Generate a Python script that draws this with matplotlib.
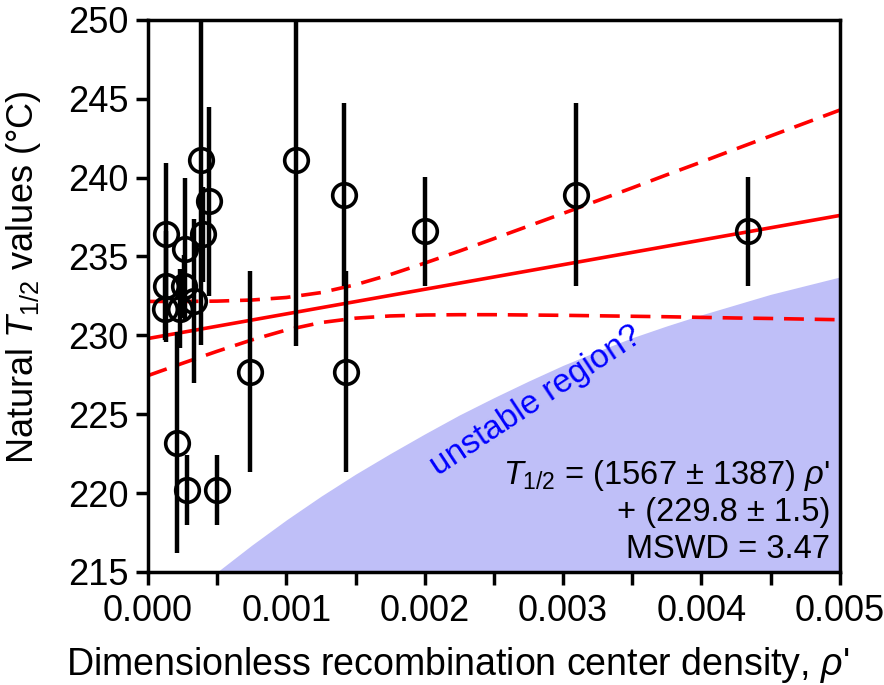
import matplotlib
matplotlib.use("Agg")
import matplotlib.pyplot as plt
from matplotlib.ticker import MultipleLocator

plt.rcParams['font.family'] = ['Liberation Sans', 'DejaVu Sans']
plt.rcParams['mathtext.fontset'] = 'custom'
plt.rcParams['mathtext.rm'] = 'Liberation Sans'
plt.rcParams['mathtext.it'] = 'Liberation Sans:italic'

# measured samples: recombination center density, T1/2 and its error
rho = [0.00013, 0.00013, 0.00012, 0.00026, 0.00023, 0.00033, 0.00027,
       0.00038, 0.00040, 0.00044, 0.00021, 0.00028, 0.00050, 0.00074,
       0.00107, 0.00142, 0.00143, 0.00200, 0.00309, 0.00434]
t_half = [236.4, 233.1, 231.7, 233.1, 231.7, 232.2, 235.5,
          241.1, 236.4, 238.5, 223.2, 220.2, 220.2, 227.7,
          241.1, 238.9, 227.7, 236.6, 238.9, 236.6]
t_err = [4.5, 3.5, 2.0, 2.0, 2.5, 5.2, 4.5,
         11.7, 3.0, 6.0, 7.0, 2.2, 2.2, 6.35,
         11.8, 5.8, 6.35, 3.45, 5.8, 3.45]

# fitted line and its confidence band
fit_x = [0.0, 0.005]
fit_y = [229.8, 237.6]
band_x = [0.0, 0.00025, 0.0005, 0.00075, 0.001, 0.00125, 0.0015, 0.00175,
          0.002, 0.00225, 0.0025, 0.00275, 0.003, 0.00325, 0.0035, 0.00375,
          0.004, 0.00425, 0.0045, 0.00475, 0.005]
band_upper = [232.15, 232.15, 232.17, 232.24, 232.40, 232.71, 233.21, 233.85,
              234.58, 235.34, 236.13, 236.93, 237.73, 238.54, 239.35, 240.18,
              240.99, 241.82, 242.64, 243.46, 244.28]
band_lower = [227.45, 228.23, 228.99, 229.71, 230.34, 230.81, 231.09, 231.23,
              231.29, 231.31, 231.31, 231.29, 231.27, 231.24, 231.21, 231.18,
              231.14, 231.10, 231.07, 231.03, 230.99]

# boundary of the "unstable region?" shading
unstable_x = [0.0005, 0.00075, 0.001, 0.00125, 0.0015, 0.00175, 0.002, 0.00225,
              0.0025, 0.00275, 0.003, 0.00325, 0.0035, 0.00375, 0.004, 0.00425,
              0.0045, 0.00475, 0.005]
unstable_y = [215.0, 216.7, 218.3, 219.8, 221.2, 222.5, 223.75, 224.95,
              226.05, 227.1, 228.1, 229.0, 229.85, 230.6, 231.3, 231.95,
              232.6, 233.15, 233.7]

fig = plt.figure(figsize=(8.84, 6.85), dpi=100)
ax = fig.add_axes([0.1674, 0.165, 0.7826, 0.806])

ax.fill_between(unstable_x, unstable_y, 200, color='#bfbff8', lw=0, zorder=1)

dash = (0, (5.5, 3))
ax.plot(fit_x, fit_y, color='red', lw=2.6, zorder=2)
ax.plot(band_x, band_upper, color='red', lw=2.6, ls=dash, zorder=2)
ax.plot(band_x, band_lower, color='red', lw=2.6, ls=dash, zorder=2)

ax.errorbar(rho, t_half, yerr=t_err, fmt='o', ms=17, mfc='none', mec='black',
            mew=2.6, ecolor='black', elinewidth=3.2, capsize=0, zorder=3)

ax.text(0.00210, 221.1, 'unstable region?', color='#0000ff', fontsize=24,
        rotation=33.5, rotation_mode='anchor', ha='left', va='baseline', zorder=4)

ax.text(0.00493, 220.6, r"$\mathit{T}_{\mathit{1/2}}$ = (1567 ± 1387) $\mathit{\rho}$'",
        fontsize=23.5, ha='right', va='baseline', zorder=4)
ax.text(0.00493, 218.25, '+ (229.8 ± 1.5)', fontsize=23.5, ha='right', va='baseline', zorder=4)
ax.text(0.00493, 215.9, 'MSWD = 3.47', fontsize=23.5, ha='right', va='baseline', zorder=4)

ax.set_xlim(0, 0.005)
ax.set_ylim(215, 250)
ax.xaxis.set_major_locator(MultipleLocator(0.001))
ax.xaxis.set_minor_locator(MultipleLocator(0.0005))
ax.yaxis.set_major_locator(MultipleLocator(5))
ax.xaxis.set_major_formatter(plt.FormatStrFormatter('%.3f'))

ax.tick_params(which='both', direction='out', length=9, width=2.5, labelsize=26)
ax.tick_params(axis='x', pad=7)
ax.tick_params(axis='y', pad=5)
for s in ax.spines.values():
    s.set_linewidth(2.5)

ax.set_xlabel("Dimensionless recombination center density, $\\mathit{\\rho}$'",
              fontsize=27)
ax.set_ylabel("Natural $\\mathit{T}_{\\mathit{1/2}}$ values (°C)", fontsize=26)
ax.xaxis.set_label_coords(0.447, -0.132)
ax.yaxis.set_label_coords(-0.152, 0.534)

fig.savefig('out.png', dpi=100)
